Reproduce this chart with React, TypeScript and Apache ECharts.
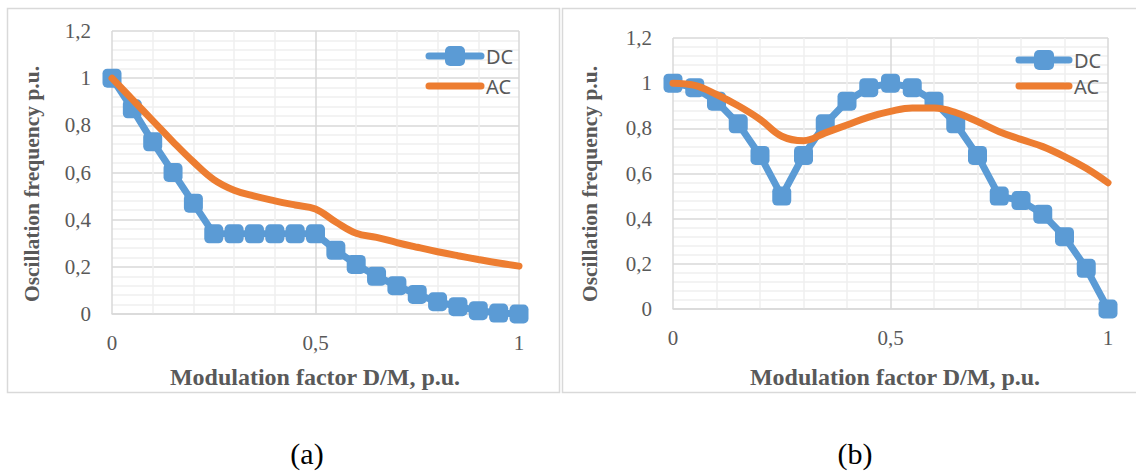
import React, { useEffect, useRef } from "react";
import * as echarts from "echarts";

// Modulation factor D/M sample points (p.u.)
const modulation = [
  0, 0.05, 0.1, 0.15, 0.2, 0.25, 0.3, 0.35, 0.4, 0.45, 0.5,
  0.55, 0.6, 0.65, 0.7, 0.75, 0.8, 0.85, 0.9, 0.95, 1,
];

// Panel (a)
const dcA = [
  1.0, 0.87, 0.73, 0.6, 0.47, 0.34, 0.34, 0.34, 0.34, 0.34, 0.34,
  0.27, 0.21, 0.16, 0.12, 0.083, 0.052, 0.031, 0.014, 0.004, 0.0,
];
const acA = [
  1.0, 0.91, 0.82, 0.73, 0.645, 0.57, 0.525, 0.5, 0.48, 0.462, 0.445,
  0.39, 0.342, 0.325, 0.303, 0.283, 0.264, 0.247, 0.231, 0.216, 0.203,
];

// Panel (b)
const dcB = [
  1.0, 0.98, 0.92, 0.82, 0.68, 0.5, 0.68, 0.82, 0.92, 0.98, 1.0,
  0.98, 0.92, 0.82, 0.68, 0.5, 0.48, 0.42, 0.32, 0.18, 0.0,
];
const acB = [
  1.0, 0.99, 0.95, 0.9, 0.84, 0.765, 0.745, 0.78, 0.815, 0.85, 0.875,
  0.89, 0.89, 0.87, 0.83, 0.785, 0.751, 0.719, 0.675, 0.623, 0.559,
];

const yTicks = [0, 0.2, 0.4, 0.6, 0.8, 1, 1.2];
const xTicks = [0, 0.5, 1];

const xTitle = "Modulation factor D/M, p.u.";
const yTitle = "Oscillation frequency p.u.";
const captions = ["(a)", "(b)"];

const BLUE = "#5B9BD5";
const ORANGE = "#ED7D31";
const TEXT = "#595959";
const MAJOR = "#d9d9d9";
const MINOR = "#efefef";

const pairs = (ys: number[]) => modulation.map((x, i) => [x, ys[i]]);
const comma = (v: number) => String(Math.round(v * 10) / 10).replace(".", ",");

function xAxisFor(gridIndex: number) {
  return {
    type: "value",
    gridIndex,
    min: xTicks[0],
    max: xTicks[xTicks.length - 1],
    interval: 0.5,
    axisLine: { show: true, lineStyle: { color: MAJOR, width: 1.5 } },
    axisTick: { show: false },
    minorTick: { show: false, splitNumber: 5 },
    minorSplitLine: { show: true, lineStyle: { color: MINOR, width: 1.5 } },
    splitLine: { show: true, lineStyle: { color: MAJOR, width: 1.5 } },
    axisLabel: {
      margin: 18,
      fontFamily: "Liberation Serif",
      fontSize: 21,
      color: TEXT,
      formatter: comma,
    },
  };
}

function yAxisFor(gridIndex: number) {
  return {
    type: "value",
    gridIndex,
    min: yTicks[0],
    max: yTicks[yTicks.length - 1],
    interval: 0.2,
    axisLine: { show: false },
    axisTick: { show: false },
    minorTick: { show: false, splitNumber: 5 },
    minorSplitLine: { show: true, lineStyle: { color: MINOR, width: 1.5 } },
    splitLine: { show: true, lineStyle: { color: MAJOR, width: 1.5 } },
    axisLabel: {
      margin: 21,
      fontFamily: "Liberation Serif",
      fontSize: 21,
      color: TEXT,
      formatter: comma,
    },
  };
}

function dcSeries(idx: number, ys: number[]) {
  return {
    name: "DC",
    type: "line",
    xAxisIndex: idx,
    yAxisIndex: idx,
    data: pairs(ys),
    symbol: "roundRect",
    symbolSize: 19,
    lineStyle: { color: BLUE, width: 7 },
    itemStyle: { color: BLUE },
    z: 2,
  };
}

function acSeries(idx: number, ys: number[]) {
  return {
    name: "AC",
    type: "line",
    xAxisIndex: idx,
    yAxisIndex: idx,
    data: pairs(ys),
    smooth: 0.4,
    showSymbol: false,
    symbol: "none",
    lineStyle: { color: ORANGE, width: 7, cap: "round" },
    itemStyle: { color: ORANGE },
    z: 3,
  };
}

function legendFor(left: number, top: number, width: number, gap: number) {
  return {
    orient: "vertical",
    left,
    top,
    itemWidth: width,
    itemHeight: 25,
    itemGap: gap,
    data: [
      { name: "DC", itemStyle: { borderRadius: 4 } },
      { name: "AC", itemStyle: { opacity: 0 } },
    ],
    lineStyle: { width: 7, cap: "round" },
    textStyle: { fontFamily: "Noto Sans", fontSize: 20, color: TEXT },
  };
}

export default function App() {
  const ref = useRef<HTMLDivElement>(null);

  useEffect(() => {
    if (!ref.current) return;
    const chart = echarts.init(ref.current, undefined, { renderer: "svg" });

    const titleStyle = {
      fontFamily: "Liberation Serif",
      fontWeight: "bold",
      fill: TEXT,
      align: "center",
      verticalAlign: "middle",
    };
    const captionStyle = {
      fontFamily: "Liberation Serif",
      fontSize: 30,
      fill: "#000000",
      align: "center",
      verticalAlign: "middle",
    };

    chart.setOption({
      animation: false,
      backgroundColor: "#ffffff",
      grid: [
        { left: 112, top: 31, width: 407, height: 283 },
        { left: 673, top: 38, width: 435, height: 271 },
      ],
      xAxis: [xAxisFor(0), xAxisFor(1)],
      yAxis: [yAxisFor(0), yAxisFor(1)],
      legend: [legendFor(420.5, 41, 52, 10), legendFor(1010.5, 45, 50, 6)],
      series: [dcSeries(0, dcA), acSeries(0, acA), dcSeries(1, dcB), acSeries(1, acB)],
      graphic: [
        {
          type: "rect",
          silent: true,
          shape: { x: 7.5, y: 8.5, width: 552, height: 384 },
          style: { fill: "none", stroke: MAJOR, lineWidth: 1.5 },
        },
        {
          type: "rect",
          silent: true,
          shape: { x: 562.5, y: 8.5, width: 600, height: 384 },
          style: { fill: "none", stroke: MAJOR, lineWidth: 1.5 },
        },
        { type: "text", x: 315, y: 377, style: { text: xTitle, fontSize: 24, ...titleStyle } },
        { type: "text", x: 895, y: 377, style: { text: xTitle, fontSize: 24, ...titleStyle } },
        {
          type: "text",
          x: 32,
          y: 184,
          rotation: Math.PI / 2,
          style: { text: yTitle, fontSize: 21.5, ...titleStyle },
        },
        {
          type: "text",
          x: 590,
          y: 184,
          rotation: Math.PI / 2,
          style: { text: yTitle, fontSize: 21.5, ...titleStyle },
        },
        { type: "text", x: 307, y: 453, style: { text: captions[0], ...captionStyle } },
        { type: "text", x: 855, y: 453, style: { text: captions[1], ...captionStyle } },
      ],
    });

    return () => chart.dispose();
  }, []);

  return (
    <div
      ref={ref}
      style={{ position: "fixed", left: 0, top: 0, width: 1136, height: 473 }}
    />
  );
}
